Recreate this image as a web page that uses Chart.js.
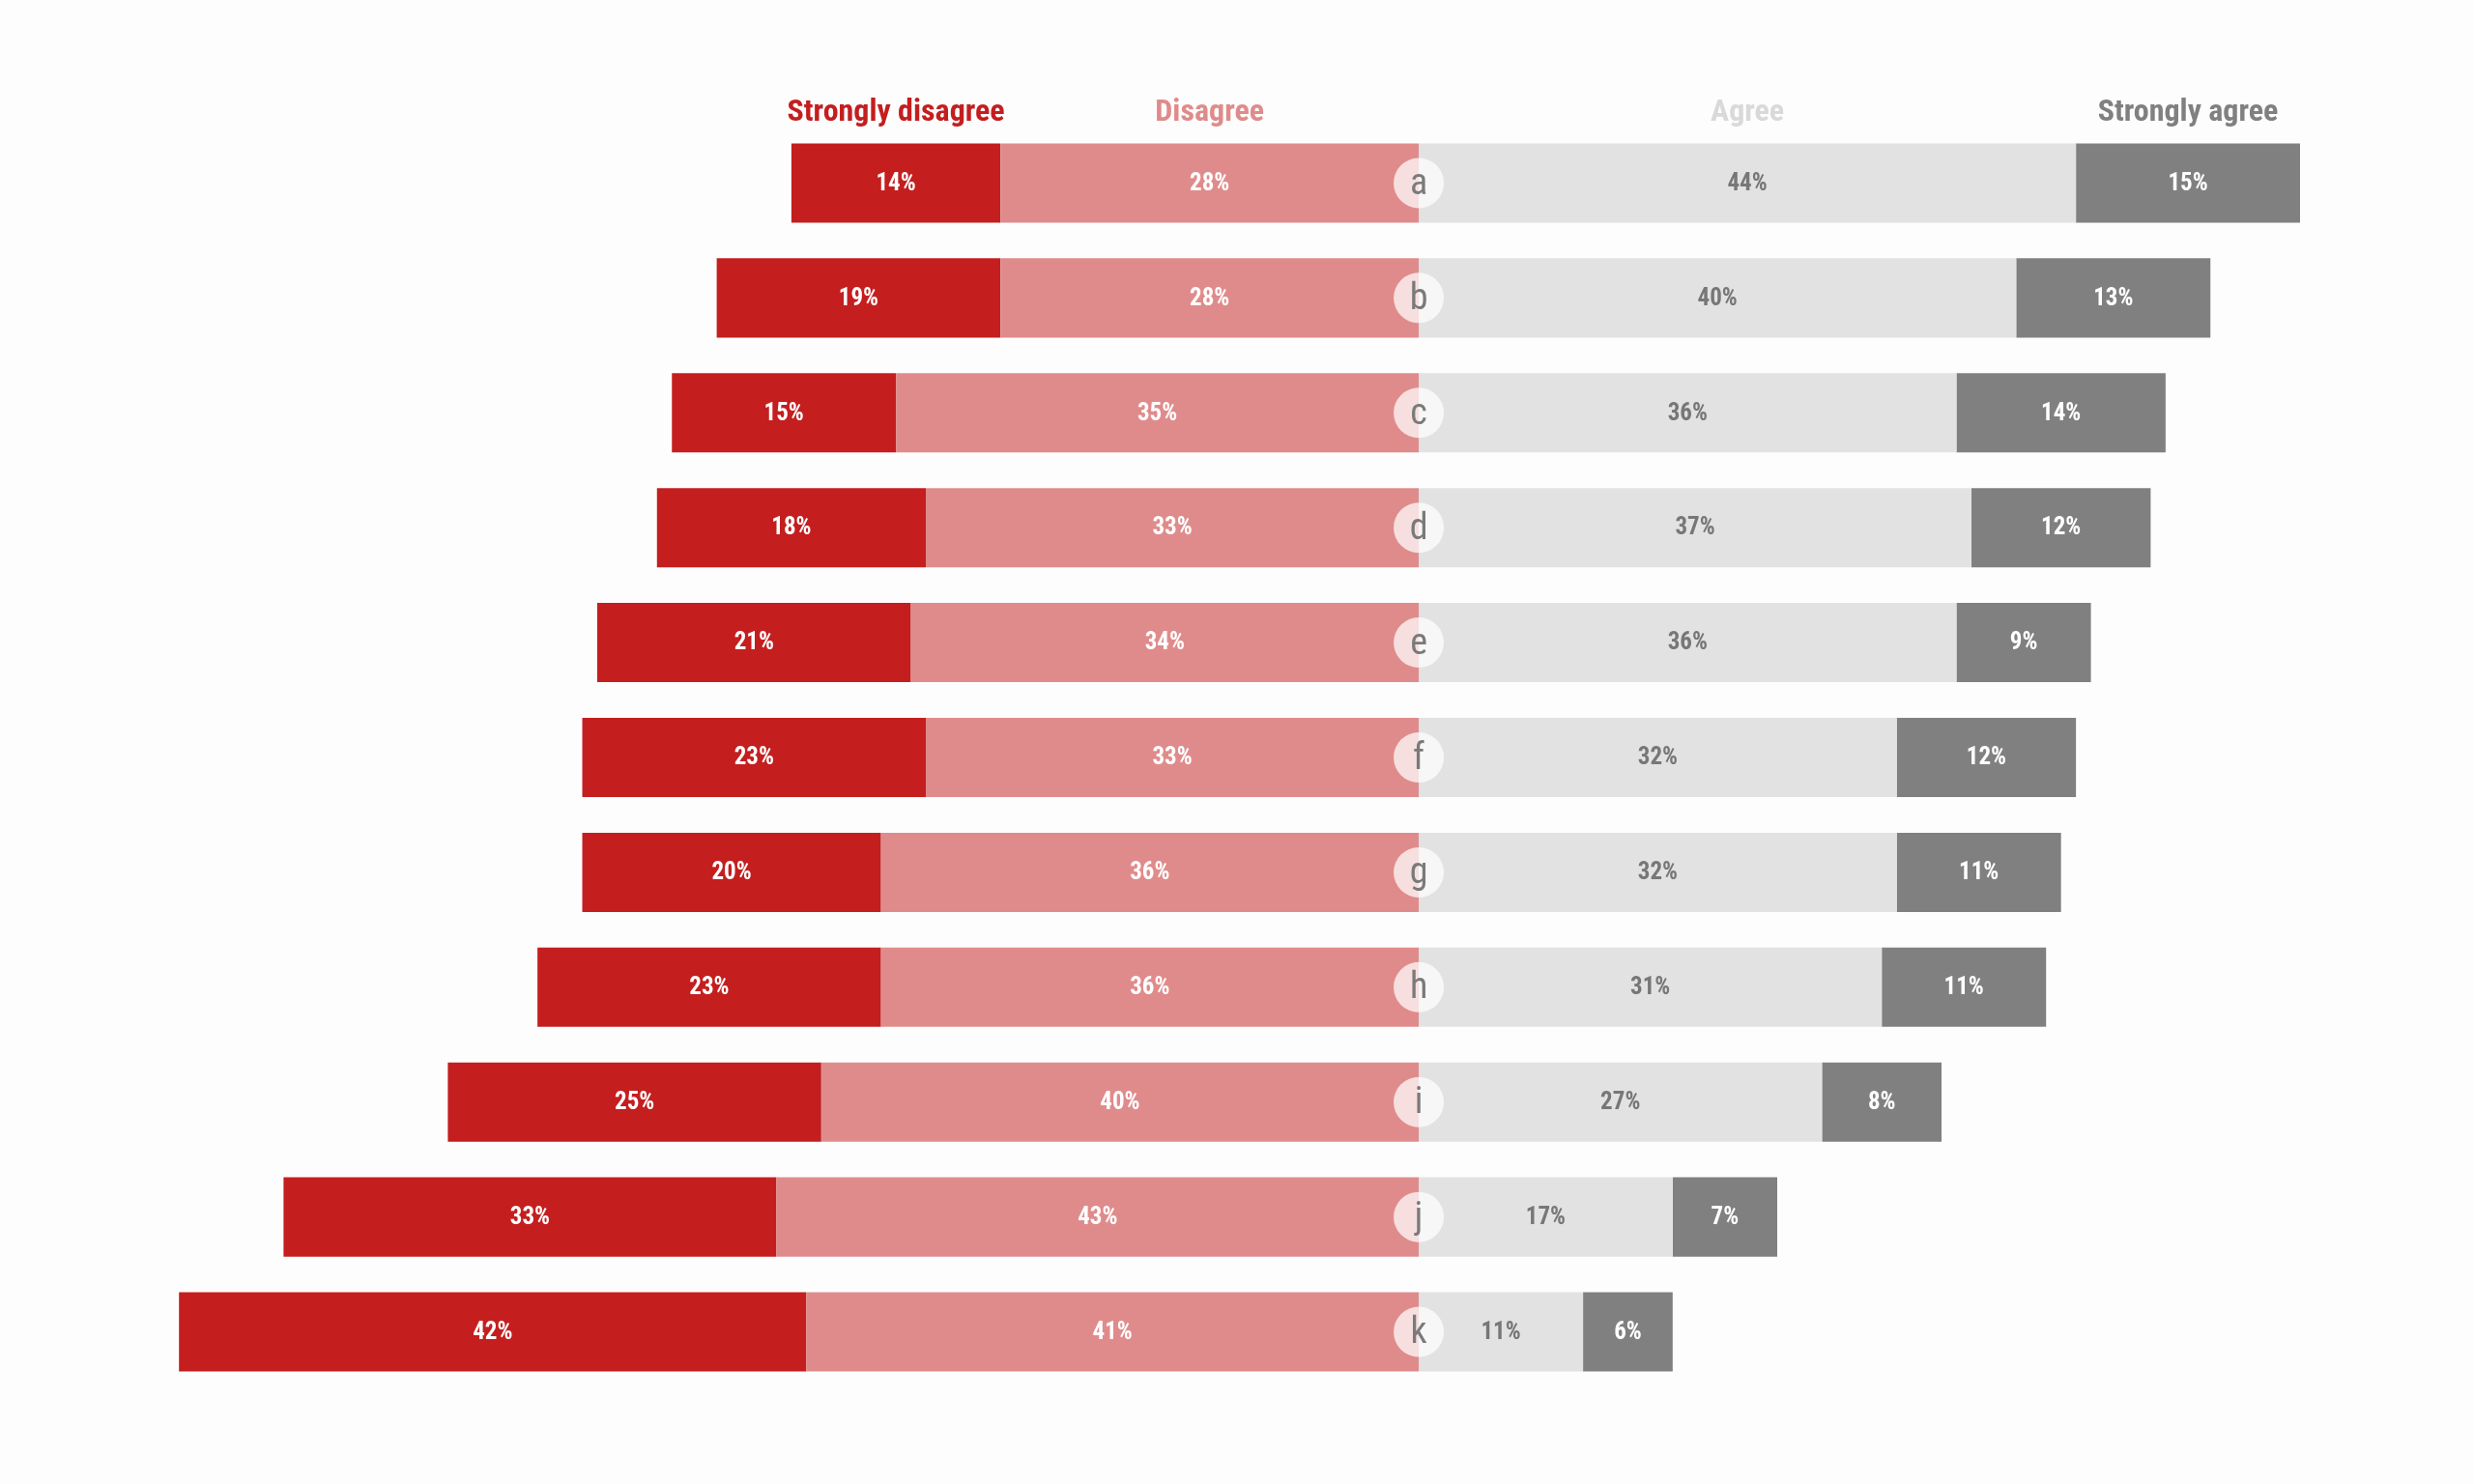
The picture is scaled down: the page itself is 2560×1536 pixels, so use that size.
<!DOCTYPE html>
<html>
<head>
<meta charset="utf-8">
<script src="https://cdn.jsdelivr.net/npm/chart.js@4"></script>
<style>
  html, body { margin: 0; background: #fdfdfd; }
  #wrap { width: 2560px; height: 1536px; }
</style>
</head>
<body>
<div id="wrap"><canvas id="chart"></canvas></div>
<script>
// survey answers per statement
const items = ['a', 'b', 'c', 'd', 'e', 'f', 'g', 'h', 'i', 'j', 'k'];
const stronglyDisagree = [14, 19, 15, 18, 21, 23, 20, 23, 25, 33, 42];
const disagree = [28, 28, 35, 33, 34, 33, 36, 36, 40, 43, 41];
const agree = [44, 40, 36, 37, 36, 32, 32, 31, 27, 17, 11];
const stronglyAgree = [15, 13, 14, 12, 9, 12, 11, 11, 8, 7, 6];
const seriesNames = ['Disagree', 'Strongly disagree', 'Agree', 'Strongly agree'];

const FONT = "'Liberation Sans Narrow', 'Roboto Condensed', 'Liberation Sans', sans-serif";

const labelColors = ['#fff', '#fff', '#777', '#fff'];
const headColors = ['#e08b8b', '#c41e1f', '#d9d9d9', '#808080'];

// values on bars, headers above row a, letter badges at zero line
const decorate = {
  id: 'decorate',
  afterDatasetsDraw(chart) {
    const ctx = chart.ctx;
    ctx.save();
    ctx.textAlign = 'center';
    ctx.textBaseline = 'middle';
    chart.data.datasets.forEach((ds, di) => {
      const meta = chart.getDatasetMeta(di);
      meta.data.forEach((bar, i) => {
        const cx = (bar.x + bar.base) / 2;
        ctx.fillStyle = labelColors[di];
        ctx.font = 'bold 25px ' + FONT;
        ctx.fillText(Math.abs(ds.data[i]) + '%', cx, bar.y + 1);
        if (i === 0) {
          ctx.fillStyle = headColors[di];
          ctx.font = 'bold 32px ' + FONT;
          ctx.fillText(ds.label, cx, bar.y - 72);
        }
      });
    });
    const x0 = chart.scales.x.getPixelForValue(0);
    chart.scales.y.ticks.forEach((t, i) => {
      const y = chart.scales.y.getPixelForTick(i);
      ctx.fillStyle = 'rgba(255,255,255,0.72)';
      ctx.beginPath();
      ctx.ellipse(x0, y, 26, 26, 0, 0, Math.PI * 2);
      ctx.fill();
      ctx.fillStyle = '#7a7a7a';
      ctx.font = '38px ' + FONT;
      ctx.fillText(items[i], x0, y + 2);
    });
    ctx.restore();
  }
};

new Chart(document.getElementById('chart'), {
  type: 'bar',
  data: {
    labels: items,
    datasets: [
      { label: seriesNames[0], data: disagree.map(v => -v), backgroundColor: '#e08b8b' },
      { label: seriesNames[1], data: stronglyDisagree.map(v => -v), backgroundColor: '#c41e1f' },
      { label: seriesNames[2], data: agree, backgroundColor: '#e2e2e2' },
      { label: seriesNames[3], data: stronglyAgree, backgroundColor: '#808080' }
    ]
  },
  options: {
    indexAxis: 'y',
    responsive: true,
    maintainAspectRatio: false,
    animation: false,
    layout: { padding: { left: 77, right: 10, top: 130, bottom: 98 } },
    datasets: { bar: { categoryPercentage: 0.69, barPercentage: 1, borderWidth: 0 } },
    scales: {
      x: { stacked: true, min: -90, max: 70, display: false },
      y: { stacked: true, display: false }
    },
    plugins: { legend: { display: false }, tooltip: { enabled: false } }
  },
  plugins: [decorate]
});
</script>
</body>
</html>
